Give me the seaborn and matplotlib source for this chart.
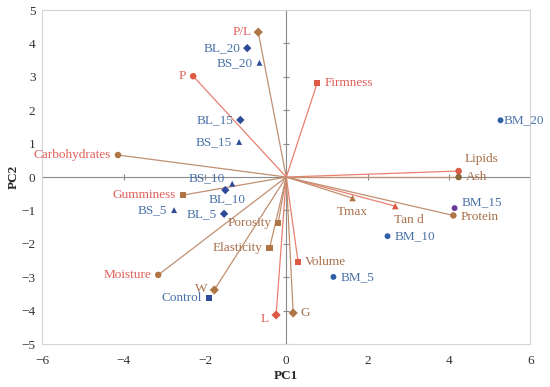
import pandas as pd
import seaborn as sns
import matplotlib.pyplot as plt

# PCA loadings (variables)
var_names = ["P/L", "P", "Carbohydrates", "Gumminess", "Firmness", "Lipids", "Ash",
             "Tmax", "Tan d", "Protein", "Volume", "G", "L", "Porosity",
             "Elasticity", "Moisture", "W"]
var_pc1 = [-0.69, -2.29, -4.14, -2.54, 0.76, 4.24, 4.24, 1.63, 2.68, 4.11,
           0.29, 0.17, -0.25, -0.20, -0.41, -3.15, -1.77]
var_pc2 = [4.34, 3.02, 0.66, -0.54, 2.81, 0.18, 0.00, -0.63, -0.87, -1.15,
           -2.54, -4.07, -4.13, -1.38, -2.12, -2.93, -3.38]

# PCA scores (samples)
smp_names = ["BL_20", "BS_20", "BL_15", "BS_15", "BS_10", "BL_10", "BS_5", "BL_5",
             "Control", "BM_20", "BM_15", "BM_10", "BM_5"]
smp_pc1 = [-0.96, -0.66, -1.13, -1.16, -1.33, -1.50, -2.76, -1.53,
           -1.90, 5.27, 4.14, 2.49, 1.16]
smp_pc2 = [3.86, 3.42, 1.71, 1.05, -0.20, -0.39, -0.99, -1.10,
           -3.62, 1.70, -0.93, -1.77, -2.99]

x_ticks = [-6, -4, -2, 0, 2, 4, 6]
y_ticks = [-5, -4, -3, -2, -1, 0, 1, 2, 3, 4, 5]

# styling
BROWN, RED = "#b07545", "#dd5a45"
BROWN_LINE, RED_LINE = "#c09070", "#e88070"
BROWN_TXT, RED_TXT, BLUE_TXT = "#a8704a", "#e0605a", "#4a72a8"

var_marker = {"P/L": "D", "P": "o", "Carbohydrates": "o", "Gumminess": "s",
              "Firmness": "s", "Lipids": "o", "Ash": "o", "Tmax": "^", "Tan d": "^",
              "Protein": "o", "Volume": "s", "G": "D", "L": "D", "Porosity": "s",
              "Elasticity": "s", "Moisture": "o", "W": "D"}
red_vars = {"P", "Firmness", "Lipids", "Tan d", "Volume", "L"}
red_labels = {"P/L", "P", "Carbohydrates", "Gumminess", "Firmness", "L", "Moisture"}
var_color = {n: (RED if n in red_vars else BROWN) for n in var_names}
var_color["Ash"] = "#8a6a3a"

smp_marker = {n: ("D" if n.startswith("BL") else "^" if n.startswith("BS")
                  else "o" if n.startswith("BM") else "s") for n in smp_names}
smp_color = {n: "#2f4a98" for n in smp_names}
smp_color["BM_15"] = "#6a3a98"
smp_color["BM_5"] = "#3060a8"
smp_color["BM_10"] = "#3060a8"
smp_color["BM_20"] = "#3060a8"

# label placement: (dx, dy in points, ha, va)
L_, R_ = (-5, 0, "right", "center"), (5, 0, "left", "center")
offsets = {n: L_ for n in var_names + smp_names}
for n in ["Firmness", "Ash", "Protein", "Volume", "G", "BM_20", "BM_15", "BM_10", "BM_5"]:
    offsets[n] = R_
offsets["Lipids"] = (4, 4, "left", "bottom")
offsets["Tmax"] = (0, -6, "center", "top")
offsets["Tan d"] = (-1, -6, "left", "top")
offsets["BL_10"] = (1, -2, "center", "top")
offsets["BS_10"] = (-5, 4, "right", "center")
offsets["L"] = (-5, -3, "right", "center")
offsets["BM_20"] = (2, 0, "left", "center")
offsets["BM_15"] = (5, 4, "left", "center")
offsets["Protein"] = (5, -1, "left", "center")
offsets["W"] = (-5, 1, "right", "center")

sns.set_theme(style="white")
plt.rcParams["font.family"] = ["Liberation Serif", "DejaVu Serif"]

fig = plt.figure(figsize=(5.5, 3.87), dpi=100)
ax = fig.add_axes([0.077, 0.111, 0.887, 0.863])

# axes through origin with tick marks
ax.axhline(0, color="#8a8a8a", lw=0.8, zorder=1)
ax.axvline(0, color="#8a8a8a", lw=0.8, zorder=1)
ax.plot(x_ticks, [0] * len(x_ticks), ls="none", marker="|", ms=5, color="#8a8a8a", mew=0.8)
ax.plot([0] * len(y_ticks), y_ticks, ls="none", marker="_", ms=5, color="#8a8a8a", mew=0.8)

# loading vectors
for n, x, y in zip(var_names, var_pc1, var_pc2):
    ax.plot([0, x], [0, y], color=RED_LINE if n in red_vars else BROWN_LINE, lw=0.9, zorder=2)

var_df = pd.DataFrame({"name": var_names, "PC1": var_pc1, "PC2": var_pc2})
smp_df = pd.DataFrame({"name": smp_names, "PC1": smp_pc1, "PC2": smp_pc2})

sns.scatterplot(data=var_df, x="PC1", y="PC2", hue="name", style="name",
                palette=var_color, markers=var_marker, s=22, linewidth=0,
                legend=False, ax=ax, zorder=3)
sns.scatterplot(data=smp_df, x="PC1", y="PC2", hue="name", style="name",
                palette=smp_color, markers=smp_marker, s=18, linewidth=0,
                legend=False, ax=ax, zorder=3)

for n, x, y in zip(var_names, var_pc1, var_pc2):
    dx, dy, ha, va = offsets[n]
    ax.annotate(n, (x, y), xytext=(dx, dy), textcoords="offset points", ha=ha, va=va,
                fontsize=9.5, color=RED_TXT if n in red_labels else BROWN_TXT)
for n, x, y in zip(smp_names, smp_pc1, smp_pc2):
    dx, dy, ha, va = offsets[n]
    ax.annotate(n, (x, y), xytext=(dx, dy), textcoords="offset points", ha=ha, va=va,
                fontsize=9.5, color=BLUE_TXT)

ax.set_xlim(-6, 6)
ax.set_ylim(-5, 5)
ax.set_xticks(x_ticks)
ax.set_yticks(y_ticks)
ax.tick_params(axis="x", length=0, labelsize=9.5, colors="#333333", pad=8)
ax.tick_params(axis="y", length=0, labelsize=9.5, colors="#333333", pad=5)
for sp in ax.spines.values():
    sp.set_color("#d4d4d4")
    sp.set_linewidth(0.8)
ax.set_xlabel("PC1", fontsize=9.5, fontweight="bold", labelpad=2)
ax.set_ylabel("PC2", fontsize=9.5, fontweight="bold", labelpad=1)

fig.savefig("out.png", dpi=100)
